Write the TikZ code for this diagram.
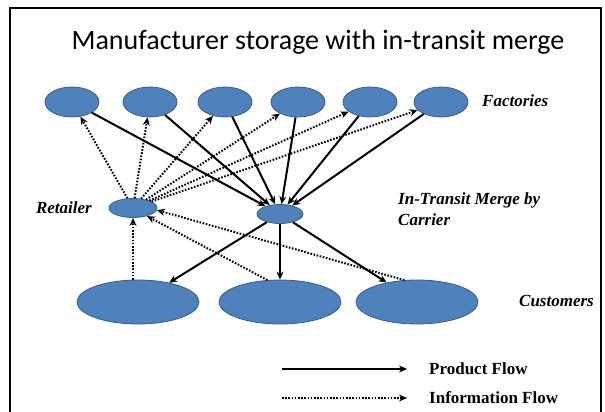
\documentclass[tikz,border=0pt]{standalone}
\usepackage{fontspec}
\setmainfont{Liberation Serif}
\newfontfamily\titlefont{Carlito}
\usetikzlibrary{shapes.geometric,arrows.meta}
\definecolor{blobfill}{RGB}{79,129,189}
\definecolor{blobline}{RGB}{56,93,138}
\tikzset{
  blob/.style={ellipse, draw=blobline, fill=blobfill, line width=0.8pt, inner sep=0pt},
  fac/.style={blob, minimum width=54pt, minimum height=30pt},
  small/.style={blob, minimum width=48pt, minimum height=19pt},
  cust/.style={blob, minimum width=122pt, minimum height=44pt},
  prod/.style={line width=2pt, -{Stealth[length=8pt,width=7pt]}},
  info/.style={line width=2pt, dash pattern=on 1.6pt off 1.6pt, -{Stealth[length=8pt,width=7pt]}},
  lab/.style={font=\fontsize{17}{21}\selectfont\bfseries\itshape, anchor=west, align=left, inner sep=0pt},
  leg/.style={font=\fontsize{17}{20}\selectfont\bfseries, anchor=west, inner sep=0pt}
}
\begin{document}
\begin{tikzpicture}[x=1pt,y=-1pt]
\useasboundingbox (0,0) rectangle (605,412);
\draw[line width=1.5pt] (10,412) -- (10,8) -- (601,8) -- (601,412);
\node[font=\titlefont\fontsize{28}{32}\selectfont] (title) at (318,42) {Manufacturer storage with in-transit merge};
% factories
\node[fac] (f1) at (72,102) {};
\node[fac] (f2) at (150,102) {};
\node[fac] (f3) at (225,102) {};
\node[fac] (f4) at (298,102) {};
\node[fac] (f5) at (370,102) {};
\node[fac] (f6) at (441,102) {};
\node[lab] (flab) at (482,101) {Factories};
% middle
\node[small] (ret) at (133,208) {};
\node[small, minimum width=46pt] (mrg) at (280,214) {};
\node[lab, anchor=east] (rlab) at (92,208) {Retailer};
\node[lab, anchor=north west] (mlab) at (398,193) {In-Transit Merge by\\Carrier};
% customers
\node[cust] (c1) at (138,302) {};
\node[cust] (c2) at (280,302) {};
\node[cust] (c3) at (417,302) {};
\node[lab] (clab) at (519,301) {Customers};
% product flow
\draw[prod] (f1) -- (mrg);
\draw[prod] (f2) -- (mrg);
\draw[prod] (f3) -- (mrg);
\draw[prod] (f4) -- (mrg);
\draw[prod] (f5) -- (mrg);
\draw[prod] (f6) -- (mrg);
\draw[prod] (mrg) -- (c1);
\draw[prod] (mrg) -- (c2);
\draw[prod] (mrg) -- (c3);
% information flow
\draw[info] (ret) -- (f1);
\draw[info] (ret) -- (f2);
\draw[info] (ret) -- (f3);
\draw[info] (ret) -- (f4);
\draw[info] (ret) -- (f5);
\draw[info] (ret) -- (f6);
\draw[info] (c1.north -| ret.south) -- (ret.south);
\draw[info] (c2.120) -- (ret.-30);
\draw[info] (c3.120) -- (ret.-5);
% legend
\coordinate (pa) at (282,369);
\coordinate (pb) at (407,369);
\coordinate (ia) at (282,398);
\coordinate (ib) at (407,398);
\draw[prod] (pa) -- (pb);
\draw[info] (ia) -- (ib);
\node[leg] (lp) at (429,369) {Product Flow};
\node[leg] (li) at (429,398) {Information Flow};
\end{tikzpicture}
\end{document}
